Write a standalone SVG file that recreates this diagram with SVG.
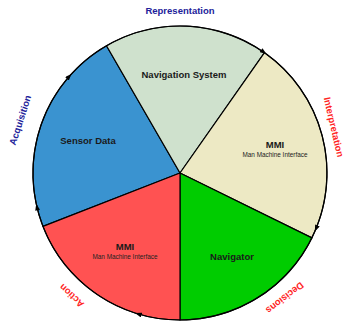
<svg xmlns="http://www.w3.org/2000/svg" width="347" height="322" viewBox="0 0 347 322">
<defs>
<style>
.sec{stroke:#000;stroke-width:1.2;stroke-linejoin:round}
.arc{fill:none;stroke:#000;stroke-width:1.2}
.t{font-family:"Liberation Sans",Arial,sans-serif;font-weight:bold;font-size:9.5px;fill:#1a1a1a;text-anchor:middle}
.s{font-family:"Liberation Sans",Arial,sans-serif;font-size:6.4px;fill:#222;text-anchor:middle}
.lb{font-family:"Liberation Sans",Arial,sans-serif;font-weight:bold;font-size:9.5px;fill:#22229a;text-anchor:middle;dominant-baseline:central}
.lr{font-family:"Liberation Sans",Arial,sans-serif;font-weight:bold;font-size:9.5px;fill:#ff2424;text-anchor:middle;dominant-baseline:central}
</style>
<marker id="ah" viewBox="0 0 8 6" refX="8" refY="3" markerWidth="7" markerHeight="5" markerUnits="userSpaceOnUse" orient="auto">
<path d="M0,0 L8,3 L0,6 Z" fill="#000"/>
</marker>
</defs>
<rect width="347" height="322" fill="#fff"/>
<g id="sensor-data">
<path class="sec" fill="#3a93d0" d="M180,173 L43.0,226.4 A147,147 0 0 1 106.5,45.7 Z"/>
<text class="t" x="88" y="144">Sensor Data</text>
</g>
<g id="navigation-system">
<path class="sec" fill="#cfe1cd" d="M180,173 L106.5,45.7 A147,147 0 0 1 264.5,52.7 Z"/>
<text class="t" x="184" y="78">Navigation System</text>
</g>
<g id="mmi-interpretation">
<path class="sec" fill="#ede9c4" d="M180,173 L264.5,52.7 A147,147 0 0 1 311.9,237.9 Z"/>
<text class="t" x="275" y="147.5">MMI</text>
<text class="s" x="275" y="156.5">Man Machine Interface</text>
</g>
<g id="navigator">
<path class="sec" fill="#00cc00" d="M180,173 L311.9,237.9 A147,147 0 0 1 180,320 Z"/>
<text class="t" x="232" y="259.5">Navigator</text>
</g>
<g id="mmi-action">
<path class="sec" fill="#ff5252" d="M180,173 L180,320 A147,147 0 0 1 43.0,226.4 Z"/>
<text class="t" x="125" y="250">MMI</text>
<text class="s" x="125" y="258.5">Man Machine Interface</text>
</g>
<g id="connectors">
<path class="arc" marker-end="url(#ah)" d="M135.1,312.96 A147,147 0 0 1 36.26,203.8"/>
<path class="arc" marker-end="url(#ah)" d="M36.26,203.8 A147,147 0 0 1 71.44,73.88"/>
<path class="arc" marker-end="url(#ah)" d="M71.44,73.88 A147,147 0 0 1 266.4,54.1"/>
<path class="arc" marker-end="url(#ah)" d="M266.4,54.1 A147,147 0 0 1 314.8,231.6"/>
<path class="arc" marker-end="url(#ah)" d="M314.8,231.6 A147,147 0 0 1 135.1,312.96"/>
</g>
<g id="labels">
<text class="lb" x="180" y="10">Representation</text>
<text class="lb" x="20" y="120" transform="rotate(-72 20 120)">Acquisition</text>
<text class="lr" x="334" y="127" transform="rotate(77 334 127)">Interpretation</text>
<text class="lr" x="285" y="298" transform="rotate(142 285 298)">Decisions</text>
<text class="lr" x="71.5" y="296" transform="rotate(223 71.5 296)">Action</text>
</g>
</svg>
